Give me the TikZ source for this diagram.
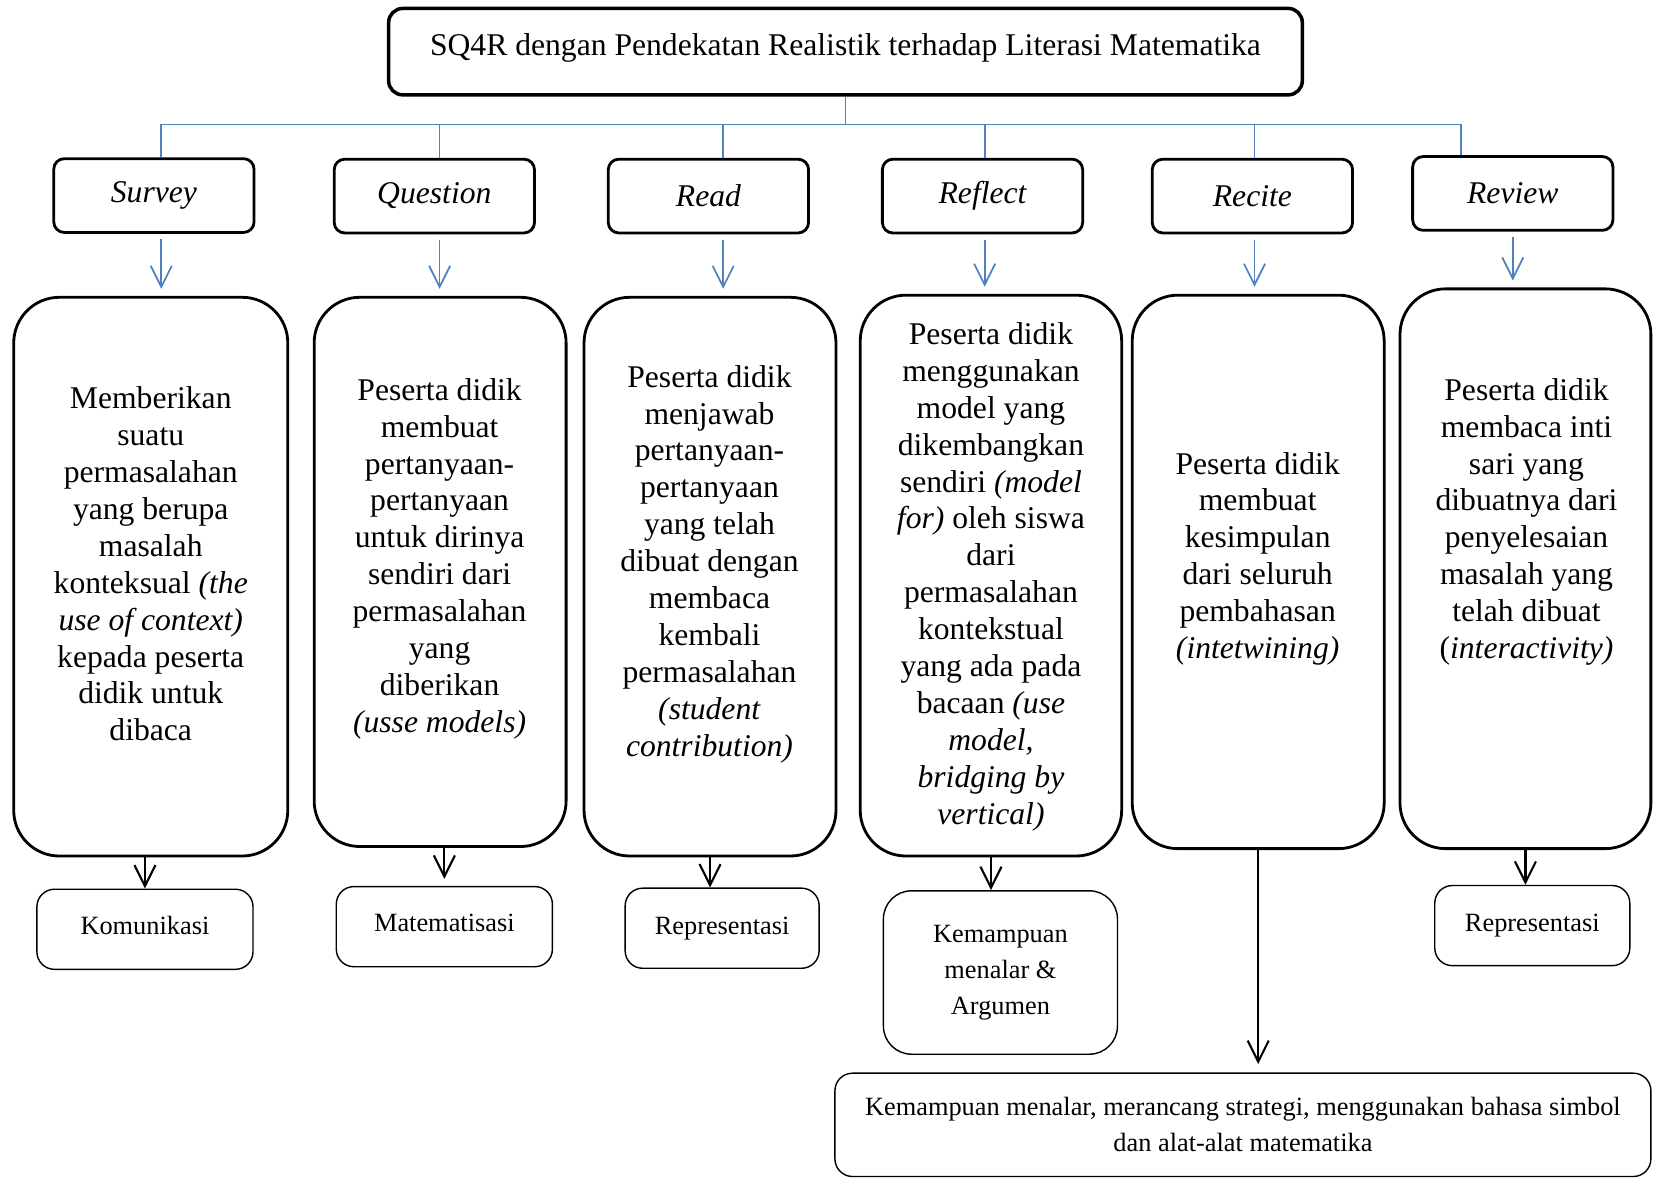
\documentclass[tikz,border=0pt]{standalone}
\usepackage{fontspec}
\setmainfont{Liberation Serif}
\usetikzlibrary{arrows.meta,calc}
\definecolor{linkblue}{RGB}{79,129,189}

\begin{document}
\begin{tikzpicture}[
  x=0.3pt, y=-0.3pt,
  font=\fontsize{9}{10.5}\selectfont,
  ttlbox/.style={draw, line width=1pt, rounded corners=4pt,
                 minimum width=260pt, minimum height=24.6pt},
  phasebox/.style={draw, line width=0.8pt, rounded corners=3pt,
                   minimum width=57pt, minimum height=21pt, font=\fontsize{9}{10.5}\selectfont\itshape},
  bigbox/.style={draw, line width=0.8pt, rounded corners=13pt},
  bigtext/.style={align=center, inner sep=0pt},
  skillbox/.style={draw, line width=0.4pt, rounded corners=5pt, align=center,
                   minimum height=22.8pt, font=\fontsize{7.5}{10.3}\selectfont},
  bline/.style={draw=linkblue, line width=0.5pt},
  barr/.style={bline, -{Straight Barb[length=6pt,width=6pt]}, shorten <=1.5pt, shorten >=2pt},
  karr/.style={black, line width=0.6pt, -{Straight Barb[length=6pt,width=6pt]}},
]
\useasboundingbox (0,0) rectangle (1568,1117);

% title and the six steps
\node[ttlbox] (ttl) at (802,49) {\raisebox{4pt}{SQ4R dengan Pendekatan Realistik terhadap Literasi Matematika}};
\node[phasebox] (sv) at (146,185.5) {Survey};
\node[phasebox] (qu) at (412,186)   {Question};
\node[phasebox] (rd) at (672,186)   {Read};
\node[phasebox] (rf) at (932,186)   {Reflect};
\node[phasebox] (rc) at (1188,186)  {Recite};
\node[phasebox] (rv) at (1435,183.5) {Review};

\coordinate (c1) at (153,118);
\coordinate (c2) at (417,118);
\coordinate (c3) at (686,118);
\coordinate (c4) at (934,118);
\coordinate (c5) at (1190,118);
\coordinate (c6) at (1386,118);
\draw[bline] (ttl.south) -- (ttl.south |- c1);
\draw[bline] (c1) -- (c6);
\foreach \c/\n in {c1/sv,c2/qu,c3/rd,c4/rf,c5/rc,c6/rv}
  \draw[bline] (\c) -- (\c |- \n.north);

% activity boxes
\node[bigbox, minimum width=78pt,   minimum height=159pt]   (svd) at (143,547)    {};
\node[bigbox, minimum width=71.7pt, minimum height=156.3pt] (qud) at (417.5,542.5) {};
\node[bigbox, minimum width=71.7pt, minimum height=159pt]   (rdd) at (673.5,547)  {};
\node[bigbox, minimum width=74.4pt, minimum height=159.6pt] (rfd) at (940,546)    {};
\node[bigbox, minimum width=71.7pt, minimum height=157.5pt] (rcd) at (1193.5,542.5) {};
\node[bigbox, minimum width=71.4pt, minimum height=159.3pt] (rvd) at (1447,539.5) {};

\node[bigtext] (svt) at (143,535) {Memberikan\\ suatu\\ permasalahan\\ yang berupa\\ masalah\\
  konteksual \textit{(the}\\ \textit{use of context)}\\ kepada peserta\\ didik untuk\\ dibaca};
\node[bigtext] (qut) at (417,530) {Peserta didik\\ membuat\\ pertanyaan-\\ pertanyaan\\ untuk dirinya\\
  sendiri dari\\ permasalahan\\ yang\\ diberikan\\ \textit{(usse models)}};
\node[bigtext] (rdt) at (673,535) {Peserta didik\\ menjawab\\ pertanyaan-\\ pertanyaan\\ yang telah\\
  dibuat dengan\\ membaca\\ kembali\\ permasalahan\\ \textit{(student}\\ \textit{contribution)}};
\node[bigtext] (rft) at (940,547) {Peserta didik\\ menggunakan\\ model yang\\ dikembangkan\\
  sendiri \textit{(model}\\ \textit{for)} oleh siswa\\ dari\\ permasalahan\\ kontekstual\\
  yang ada pada\\ bacaan \textit{(use}\\ \textit{model,}\\ \textit{bridging by}\\ \textit{vertical)}};
\node[bigtext] (rct) at (1193,530) {Peserta didik\\ membuat\\ kesimpulan\\ dari seluruh\\ pembahasan\\
  \textit{(intetwining)}};
\node[bigtext] (rvt) at (1448,495) {Peserta didik\\ membaca inti\\ sari yang\\ dibuatnya dari\\
  penyelesaian\\ masalah yang\\ telah dibuat\\ (\textit{interactivity)}};

\draw[barr] (c1 |- sv.south) -- (c1 |- svd.north);
\draw[barr] (c2 |- qu.south) -- (c2 |- qud.north);
\draw[barr] (c3 |- rd.south) -- (c3 |- rdd.north);
\draw[barr] (c4 |- rf.south) -- (c4 |- rfd.north);
\draw[barr] (c5 |- rc.south) -- (c5 |- rcd.north);
\draw[barr] (rv.south) -- (rv.south |- rvd.north);

% literacy skills
\node[skillbox, minimum width=61.5pt] (kom)  at (137.5,881.5) {\raisebox{2pt}{Komunikasi}};
\node[skillbox, minimum width=61.5pt] (mat)  at (421.5,879)   {\raisebox{2pt}{Matematisasi}};
\node[skillbox, minimum width=55.2pt] (rep1) at (685,880.5)   {Representasi};
\node[skillbox, minimum width=66.6pt, minimum height=46.5pt, rounded corners=8pt]
      (arg) at (949,922.5) {Kemampuan\\ menalar \&\\ Argumen};
\node[skillbox, minimum width=55.5pt] (rep2) at (1453.5,878)  {Representasi};
\node[skillbox, minimum width=232.2pt, minimum height=29.4pt]
      (bot) at (1179,1067) {Kemampuan menalar, merancang strategi, menggunakan bahasa simbol\\ dan alat-alat matematika};

\draw[karr] (kom |- svd.south) -- (kom.north);
\draw[karr, shorten >=2pt] (mat |- qud.south) -- (mat.north);
\draw[karr] (rdd.south) -- (rdd.south |- rep1.north);
\draw[karr] (rfd.south) -- (rfd.south |- arg.north);
\draw[karr, shorten >=2.4pt] (rcd.south) -- (rcd.south |- bot.north);
\draw[karr] (rvd.south) -- (rvd.south |- rep2.north);
\end{tikzpicture}
\end{document}
